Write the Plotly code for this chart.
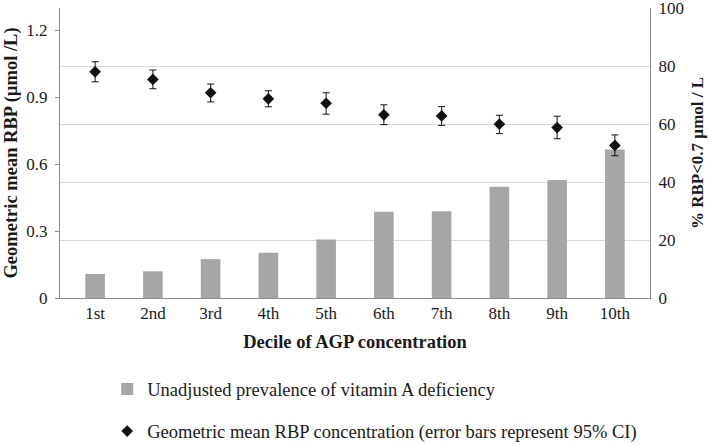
import plotly.graph_objects as go

deciles = ["1st", "2nd", "3rd", "4th", "5th", "6th", "7th", "8th", "9th", "10th"]
prevalence = [8.3, 9.2, 13.4, 15.6, 20.2, 29.7, 29.9, 38.4, 40.7, 51.2]
rbp_mean = [1.014, 0.980, 0.920, 0.893, 0.873, 0.821, 0.816, 0.779, 0.764, 0.684]
rbp_upper = [1.059, 1.022, 0.959, 0.929, 0.920, 0.866, 0.858, 0.819, 0.815, 0.731]
rbp_lower = [0.969, 0.938, 0.879, 0.857, 0.824, 0.777, 0.774, 0.737, 0.714, 0.638]
left_ticks = [0, 0.3, 0.6, 0.9, 1.2]
left_ticktext = ["0", "0.3", "0.6", "0.9", "1.2"]

err_plus = [u - m for u, m in zip(rbp_upper, rbp_mean)]
err_minus = [m - l for m, l in zip(rbp_mean, rbp_lower)]

FONT = "Liberation Serif, Times New Roman, serif"
AXIS = "#8c8c8c"

fig = go.Figure()
fig.add_trace(go.Bar(
    x=deciles, y=prevalence, yaxis="y",
    name="Unadjusted prevalence of vitamin A deficiency",
    marker=dict(color="#a6a6a6", line=dict(width=0)),
    width=0.34, legendgroup="a",
))
fig.add_trace(go.Scatter(
    x=deciles, y=rbp_mean, yaxis="y2", mode="markers",
    name="Geometric mean RBP concentration (error bars represent 95% CI)",
    marker=dict(symbol="diamond", size=9, color="#111111"),
    error_y=dict(type="data", symmetric=False, array=err_plus, arrayminus=err_minus,
                 color="#111111", thickness=1, width=3.5),
    legendgroup="b",
))

fig.update_layout(
    width=709, height=446,
    margin=dict(l=60, r=59, t=8, b=148, autoexpand=False),
    paper_bgcolor="white", plot_bgcolor="white",
    font=dict(family=FONT, size=17, color="#1a1a1a"),
    showlegend=True,
    legend=dict(
        x=0.08, y=-0.25, xanchor="left", yanchor="top",
        orientation="v", tracegroupgap=15,
        font=dict(family=FONT, size=18.5, color="#1a1a1a"),
        bgcolor="rgba(0,0,0,0)", itemwidth=30,
    ),
    xaxis=dict(
        type="category",
        showline=True, linecolor=AXIS, linewidth=1,
        ticks="", showgrid=False,
        tickfont=dict(family=FONT, size=17),
        ticklabelstandoff=0,
        title=dict(text="<b>Decile of AGP concentration</b>",
                   font=dict(family=FONT, size=18.5), standoff=12),
        automargin=False,
    ),
    yaxis=dict(
        side="right", range=[0, 100], tickvals=[0, 20, 40, 60, 80, 100],
        showgrid=True, gridcolor="#d9d9d9", gridwidth=1,
        zeroline=False,
        showline=True, linecolor=AXIS, linewidth=1, ticks="",
        tickfont=dict(family=FONT, size=17),
        ticklabelstandoff=4,
        ticklabeloverflow="allow",
        title=dict(text="<b>% RBP<0.7 µmol / L</b>",
                   font=dict(family=FONT, size=17), standoff=8),
        automargin=False,
    ),
    yaxis2=dict(
        side="left", overlaying="y", range=[0, 1.3],
        tickvals=left_ticks, ticktext=left_ticktext,
        showgrid=False, zeroline=False,
        showline=True, linecolor=AXIS, linewidth=1,
        ticks="outside", ticklen=4, tickcolor=AXIS,
        tickfont=dict(family=FONT, size=17),
        ticklabelstandoff=4,
        title=dict(text="<b>Geometric mean RBP (µmol /L)</b>",
                   font=dict(family=FONT, size=18.5), standoff=3),
        automargin=False,
    ),
)

fig.write_html("out.html", config={"displayModeBar": False},
               post_script="document.body.style.margin='0';")
